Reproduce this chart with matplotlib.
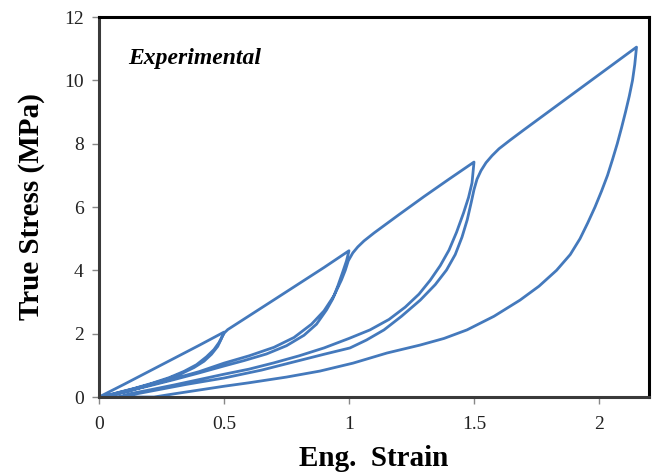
import matplotlib
matplotlib.use("Agg")
import matplotlib.pyplot as plt

# Cyclic loading test (one continuous record)
# cycle 1 loading up to 0.5 strain
load1_x = [0.0, 0.1, 0.2, 0.3, 0.4, 0.5]
load1_y = [0.0, 0.40, 0.81, 1.22, 1.63, 2.05]
unload1_x = [0.5, 0.49, 0.475, 0.45, 0.42, 0.38, 0.33, 0.27, 0.2, 0.13, 0.06, 0.01]
unload1_y = [2.05, 1.85, 1.6, 1.35, 1.13, 0.93, 0.74, 0.56, 0.39, 0.24, 0.10, 0.0]

# cycle 2 reload, then loading up to 1.0
load2_x = [0.01, 0.07, 0.14, 0.21, 0.28, 0.34, 0.39, 0.43, 0.46, 0.48, 0.492, 0.502, 0.515,
           0.6, 0.7, 0.8, 0.9, 1.0]
load2_y = [0.0, 0.13, 0.27, 0.43, 0.61, 0.81, 1.02, 1.27, 1.5, 1.72, 1.9, 2.03, 2.13,
           2.56, 3.07, 3.58, 4.09, 4.62]
unload2_x = [1.0, 0.99, 0.975, 0.955, 0.935, 0.91, 0.87, 0.82, 0.75, 0.67, 0.58, 0.5,
             0.4, 0.3, 0.2, 0.12, 0.05, 0.03]
unload2_y = [4.62, 4.3, 3.95, 3.5, 3.1, 2.75, 2.3, 1.95, 1.62, 1.36, 1.15, 0.98,
             0.76, 0.55, 0.35, 0.2, 0.06, 0.0]

# cycle 3 reload, then loading up to 1.5
load3_x = [0.03, 0.1, 0.2, 0.3, 0.4, 0.5, 0.6, 0.7, 0.78, 0.85, 0.9, 0.94, 0.97, 0.985,
           0.997, 1.015, 1.035, 1.06, 1.1, 1.15, 1.2, 1.3, 1.4, 1.5]
load3_y = [0.0, 0.15, 0.37, 0.58, 0.8, 1.07, 1.3, 1.57, 1.88, 2.3, 2.72, 3.2, 3.7, 4.0,
           4.3, 4.55, 4.74, 4.93, 5.18, 5.47, 5.76, 6.33, 6.88, 7.42]
unload3_x = [1.5, 1.492, 1.478, 1.458, 1.43, 1.4, 1.365, 1.325, 1.28, 1.225, 1.16, 1.084,
             1.0, 0.9, 0.8, 0.7, 0.6, 0.5, 0.4, 0.3, 0.2, 0.12, 0.08]
unload3_y = [7.42, 6.76, 6.3, 5.81, 5.2, 4.64, 4.15, 3.69, 3.25, 2.84, 2.45, 2.12,
             1.85, 1.55, 1.3, 1.08, 0.88, 0.72, 0.55, 0.38, 0.22, 0.1, 0.0]

# cycle 4 reload, then loading up to 2.15
load4_x = [0.08, 0.15, 0.25, 0.35, 0.5, 0.65, 0.8, 0.9, 1.004, 1.07, 1.14, 1.21, 1.285,
           1.345, 1.39, 1.425, 1.452, 1.473, 1.489, 1.5, 1.512, 1.528, 1.548, 1.572,
           1.6, 1.644, 1.7, 1.8, 1.9, 2.0, 2.1, 2.15]
load4_y = [0.0, 0.1, 0.25, 0.4, 0.6, 0.85, 1.15, 1.35, 1.55, 1.8, 2.12, 2.55, 3.06,
           3.55, 4.01, 4.5, 5.05, 5.6, 6.15, 6.55, 6.88, 7.15, 7.4, 7.62,
           7.84, 8.11, 8.44, 9.02, 9.6, 10.18, 10.76, 11.05]
unload4_x = [2.15, 2.143, 2.134, 2.121, 2.106, 2.09, 2.073, 2.054, 2.034, 2.01, 1.984,
             1.955, 1.924, 1.885, 1.83, 1.76, 1.684, 1.58, 1.472, 1.38, 1.284,
             1.152, 1.016, 0.884, 0.75, 0.6, 0.5, 0.4, 0.3, 0.22, 0.0]
unload4_y = [11.05, 10.5, 10.0, 9.5, 9.0, 8.5, 8.0, 7.5, 7.0, 6.5, 6.0,
             5.5, 5.0, 4.5, 4.0, 3.5, 3.06, 2.55, 2.12, 1.85, 1.64,
             1.39, 1.07, 0.82, 0.63, 0.45, 0.34, 0.22, 0.1, 0.0, 0.0]

strain = load1_x + unload1_x + load2_x + unload2_x + load3_x + unload3_x + load4_x + unload4_x
stress = load1_y + unload1_y + load2_y + unload2_y + load3_y + unload3_y + load4_y + unload4_y

xticks = [0, 0.5, 1, 1.5, 2]
xtick_labels = ["0", "0.5", "1", "1.5", "2"]
yticks = [0, 2, 4, 6, 8, 10, 12]

plt.rcParams['font.family'] = ['Liberation Serif', 'DejaVu Serif']

fig = plt.figure(figsize=(6.53, 4.74), dpi=100)
ax = fig.add_axes([0.1516, 0.1624, 0.8423, 0.8017])

ax.plot(strain, stress, color='#4479BC', linewidth=2.0, solid_joinstyle='round')

ax.set_xlim(0, 2.2)
ax.set_ylim(0, 12)
ax.set_xticks(xticks)
ax.set_xticklabels(xtick_labels)
ax.set_yticks(yticks)

for side in ['left', 'bottom']:
    ax.spines[side].set_color('#3a3a3a')
    ax.spines[side].set_linewidth(2.2)
for side in ['top', 'right']:
    ax.spines[side].set_color('black')
    ax.spines[side].set_linewidth(2.2)

ax.tick_params(axis='both', direction='out', length=5, width=1, color='#888888',
               labelsize=14, labelcolor='#222222')
ax.tick_params(axis='x', pad=9)
ax.tick_params(axis='y', pad=6)

ax.set_xlabel('Eng.  Strain', fontsize=21, fontweight='bold', labelpad=8)
ax.set_ylabel('True Stress (MPa)', fontsize=21, fontweight='bold', labelpad=14)

ax.text(0.053, 0.89, 'Experimental', transform=ax.transAxes, fontsize=17,
        fontweight='bold', fontstyle='italic', va='center', ha='left')

fig.savefig('out.png', dpi=100)
